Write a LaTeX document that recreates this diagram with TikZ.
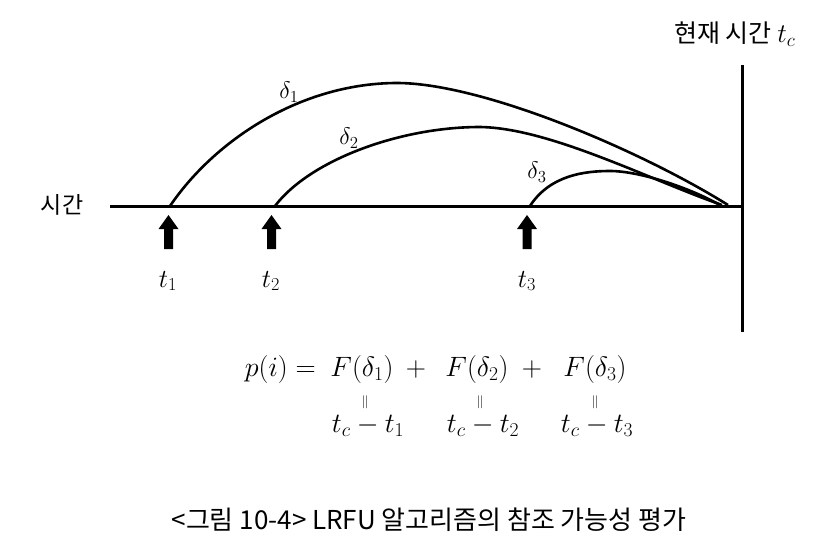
\RequirePackage{fix-cm}
\documentclass[tikz,border=0pt]{standalone}
\usepackage{fontspec}
\newfontfamily\kr{Noto Sans CJK KR}
\begin{document}
\begin{tikzpicture}[x=1pt,y=-1pt,
  axisline/.style={line width=3pt},
  arcline/.style={line width=2.6pt},
  krtext/.style={font=\kr\fontsize{23}{27}\selectfont, inner sep=0pt},
  captext/.style={font=\kr\fontsize{26}{30}\selectfont, inner sep=0pt},
  mth/.style={font=\fontsize{28}{32}\selectfont, inner sep=0pt, anchor=base},
  tlab/.style={font=\fontsize{26}{30}\selectfont, inner sep=0pt, anchor=base},
  dlab/.style={font=\fontsize{24}{28}\selectfont, inner sep=0pt},
  eqbar/.style={font=\fontsize{13}{15}\selectfont, inner sep=0pt},
  uparrow/.pic={\fill (-4.5,0) -- (-4.5,-20) -- (-10,-20) -- (0,-34) -- (10,-20) -- (4.5,-20) -- (4.5,0) -- cycle;}]
\useasboundingbox (0,0) rectangle (830,547);

% axis and present-time line
\coordinate (axL) at (110,206);
\coordinate (axR) at (742,206);
\coordinate (vT) at (742,65);
\coordinate (vB) at (742,332);
\draw[axisline] (axL) -- (axR);
\draw[axisline] (vT) -- (vB);

\node[krtext] (timelbl) at (62,205) {시간};
\node[krtext, font=\kr\fontsize{25}{29}\selectfont, anchor=base west] (nowlbl) at (674,42) {현재 시간 {\fontsize{27}{30}\selectfont$t_c$}};

% reference points
\coordinate (s1) at (170,206);
\coordinate (s2) at (275,206);
\coordinate (s3) at (530,206);
\coordinate (e1) at (728,205);
\coordinate (e2) at (722,205);
\coordinate (e3) at (720,205);

% arcs
\draw[arcline] (s1) .. controls (215,140) and (300,84) .. (395,83)
  .. controls (480,82) and (640,150) .. (e1);
\draw[arcline] (s2) .. controls (310,160) and (400,127) .. (480,127)
  .. controls (550,128) and (650,180) .. (e2);
\draw[arcline] (s3) .. controls (550,175) and (585,171) .. (610,171)
  .. controls (640,171) and (690,188) .. (e3);

\node[dlab] (d1) at (289,92) {$\delta_1$};
\node[dlab] (d2) at (349,138) {$\delta_2$};
\node[dlab] (d3) at (537,172) {$\delta_3$};

% block arrows
\pic at (168.5,249) {uparrow};
\pic at (271.5,249) {uparrow};
\pic at (527,249) {uparrow};

\node[tlab] (t1) at (168,287) {$t_1$};
\node[tlab] (t2) at (271,287) {$t_2$};
\node[tlab] (t3) at (527,287) {$t_3$};

% equation
\node[mth, anchor=base east] (lhs) at (316,376) {$p(i) =$};
\node[mth] (f1) at (362,376) {$F(\delta_1)$};
\node[mth] (pl1) at (416,376) {$+$};
\node[mth] (f2) at (477,376) {$F(\delta_2)$};
\node[mth] (pl2) at (532,376) {$+$};
\node[mth] (f3) at (595,376) {$F(\delta_3)$};

\node[eqbar] (q1) at (365,402) {$\|$};
\node[eqbar] (q2) at (480,402) {$\|$};
\node[eqbar] (q3) at (595,402) {$\|$};

\node[mth] (r1) at (368,432) {$t_c - t_1$};
\node[mth] (r2) at (483,432) {$t_c - t_2$};
\node[mth] (r3) at (597,432) {$t_c - t_3$};

\node[captext] (cap) at (429,520) {<그림 10-4> LRFU 알고리즘의 참조 가능성 평가};
\end{tikzpicture}
\end{document}
